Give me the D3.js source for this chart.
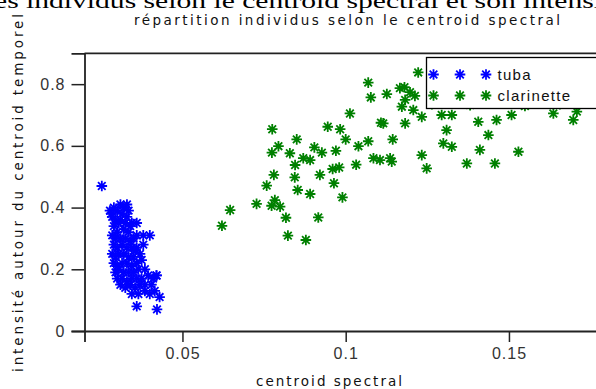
<!DOCTYPE html>
<html>
<head>
<meta charset="utf-8">
<script src="https://cdn.jsdelivr.net/npm/d3@7"></script>
<style>
  body { margin: 0; background: #fff; }
  svg { display: block; }
  text { font-family: "DejaVu Sans", "Liberation Sans", sans-serif; }
</style>
</head>
<body>
<div class="chart"></div>
<script>
var width = 596, height = 389;

// tick values
var xMajor = [0.05, 0.1, 0.15];
var xMinor = [0.02, 0.03, 0.04, 0.06, 0.07, 0.08, 0.09, 0.11, 0.12, 0.13, 0.14, 0.16, 0.17, 0.18];
var yMajor = [0, 0.2, 0.4, 0.6, 0.8];
var yMinor = [0.1, 0.3, 0.5, 0.7, 0.9];

// series: [centroid spectral, intensité]
var tuba = [
  [0.0253,0.47],
  [0.0278,0.39],[0.0285,0.37],[0.0282,0.38],[0.0290,0.40],[0.0300,0.39],[0.0310,0.41],[0.0320,0.40],[0.0315,0.38],[0.0295,0.36],
  [0.0305,0.35],[0.0290,0.34],[0.0330,0.37],[0.0340,0.34],[0.0345,0.35],[0.0335,0.32],[0.0320,0.33],[0.0300,0.32],[0.0285,0.31],[0.0295,0.30],
  [0.0310,0.30],[0.0325,0.30],[0.0340,0.29],[0.0360,0.31],[0.0380,0.31],[0.0290,0.28],[0.0300,0.27],[0.0315,0.28],[0.0330,0.27],[0.0345,0.27],
  [0.0355,0.26],[0.0370,0.25],[0.0285,0.25],[0.0295,0.24],[0.0305,0.25],[0.0320,0.25],[0.0335,0.24],[0.0350,0.24],[0.0290,0.22],[0.0300,0.21],
  [0.0315,0.22],[0.0330,0.22],[0.0345,0.21],[0.0360,0.22],[0.0375,0.23],[0.0295,0.19],[0.0305,0.20],[0.0320,0.19],[0.0335,0.19],[0.0350,0.19],
  [0.0365,0.20],[0.0385,0.20],[0.0300,0.17],[0.0315,0.17],[0.0330,0.16],[0.0345,0.17],[0.0360,0.17],[0.0375,0.17],[0.0395,0.18],[0.0310,0.15],
  [0.0325,0.14],[0.0340,0.15],[0.0355,0.14],[0.0370,0.15],[0.0385,0.15],[0.0405,0.15],[0.0420,0.18],[0.0415,0.13],[0.0400,0.12],[0.0385,0.13],
  [0.0345,0.12],[0.0365,0.12],[0.0430,0.11],[0.0360,0.08],[0.0422,0.07],[0.0400,0.31],[0.0380,0.28],[0.0410,0.17],[0.0330,0.41],[0.0335,0.39],
  [0.0350,0.30],[0.0310,0.36],[0.0325,0.35],[0.0360,0.27],[0.0360,0.35],[0.0421,0.18]
];

var clarinette = [
  [0.0621,0.341],[0.0646,0.392],[0.0727,0.412],[0.0758,0.471],[0.0773,0.406],[0.0783,0.424],[0.0799,0.403],[0.0817,0.367],
  [0.0823,0.309],[0.0878,0.295],[0.0775,0.654],[0.0794,0.599],[0.0774,0.578],[0.0780,0.506],[0.0829,0.576],[0.0850,0.621],
  [0.0844,0.498],[0.0845,0.538],[0.0853,0.457],[0.0870,0.560],[0.0891,0.554],[0.0891,0.444],[0.0904,0.595],[0.0916,0.368],
  [0.0921,0.506],[0.0927,0.578],[0.0945,0.662],[0.0960,0.525],[0.0964,0.479],[0.0970,0.584],[0.0980,0.530],[0.0983,0.654],
  [0.0990,0.433],[0.1000,0.621],[0.1013,0.705],[0.1032,0.539],[0.1039,0.599],[0.1069,0.805],[0.1077,0.757],[0.1069,0.615],
  [0.1085,0.560],[0.1105,0.554],[0.1108,0.675],[0.1115,0.673],[0.1126,0.768],[0.1136,0.560],[0.1141,0.549],[0.1144,0.621],
  [0.1166,0.787],[0.1182,0.749],[0.1197,0.774],[0.1212,0.762],[0.1172,0.727],[0.1182,0.673],[0.1207,0.716],[0.1222,0.838],
  [0.1233,0.694],[0.1233,0.570],[0.1248,0.527],[0.1294,0.700],[0.1325,0.700],[0.1309,0.651],[0.1299,0.608],[0.1325,0.597],
  [0.1371,0.543],[0.1406,0.678],[0.1411,0.587],[0.1437,0.635],[0.1457,0.543],[0.1462,0.684],[0.1508,0.700],[0.1529,0.581],
  [0.1636,0.705],[0.1697,0.684],[0.1708,0.711],[0.1264,0.735],[0.1381,0.732],[0.1549,0.729],[0.1656,0.735],[0.1180,0.790]
];

var x = d3.scaleLinear().domain([0.02, 0.18]).range([84.5, 606.9]);
var y = d3.scaleLinear().domain([0, 0.9]).range([331, 53.3]);

var svg = d3.select(".chart")
  .append("svg")
    .attr("width", width)
    .attr("height", height);

// heading of the page above, cut by the picture's top edge
svg.append("text")
  .attr("x", -6)
  .attr("y", 8)
  .attr("textLength", 608)
  .attr("lengthAdjust", "spacingAndGlyphs")
  .style("font-family", "'Liberation Serif', serif")
  .style("font-size", "21px")
  .style("fill", "#000")
  .text("es individus selon le centroid spectral et son intensi");

svg.append("text")
  .attr("x", 347)
  .attr("y", 25)
  .attr("text-anchor", "middle")
  .attr("textLength", 426)
  .attr("lengthAdjust", "spacing")
  .style("font-size", "13.5px")
  .style("fill", "#111")
  .text("répartition individus selon le centroid spectral");

// frame top
svg.append("line")
  .attr("x1", x(0.02)).attr("x2", width)
  .attr("y1", y(0.9)).attr("y2", y(0.9))
  .style("stroke", "#222").style("stroke-width", 1.8);

// axes
var gx = svg.append("g").attr("transform", "translate(0," + y(0) + ")");
gx.call(d3.axisBottom(x).tickValues(xMinor).tickSize(4).tickFormat(""));
gx.call(d3.axisBottom(x).tickValues(xMajor).tickSize(11).tickPadding(6).tickFormat(function(d) { return String(d); }));

var gy = svg.append("g").attr("transform", "translate(" + x(0.02) + ",0)");
gy.call(d3.axisLeft(y).tickValues(yMinor).tickSize(7).tickFormat(""));
gy.call(d3.axisLeft(y).tickValues(yMajor).tickSize(13).tickPadding(6).tickFormat(function(d) { return String(d); }));

svg.selectAll(".domain").style("stroke", "#222").style("stroke-width", 1.8);
svg.selectAll(".tick line").style("stroke", "#222").style("stroke-width", 1.5);
svg.selectAll(".tick text")
  .style("font-family", "'Liberation Sans', sans-serif")
  .style("font-size", "16px")
  .style("letter-spacing", "1px")
  .style("fill", "#333");

svg.append("text")
  .attr("x", 329)
  .attr("y", 386)
  .attr("text-anchor", "middle")
  .attr("textLength", 146)
  .attr("lengthAdjust", "spacing")
  .style("font-size", "13.5px")
  .style("fill", "#111")
  .text("centroid spectral");

svg.append("text")
  .attr("transform", "translate(23,193) rotate(-90)")
  .attr("text-anchor", "middle")
  .attr("textLength", 358)
  .attr("lengthAdjust", "spacing")
  .style("font-size", "13.5px")
  .style("fill", "#111")
  .text("intensité autour du centroid temporel");

function star(r) {
  var d = r * 0.72;
  return "M" + (-r) + ",0L" + r + ",0M0," + (-r) + "L0," + r +
         "M" + (-d) + "," + (-d) + "L" + d + "," + d +
         "M" + (-d) + "," + d + "L" + d + "," + (-d);
}

function drawSeries(data, color) {
  svg.append("g").selectAll("path")
    .data(data)
    .enter().append("path")
      .attr("transform", function(d) { return "translate(" + x(d[0]) + "," + y(d[1]) + ")"; })
      .attr("d", star(5.3))
      .style("fill", "none")
      .style("stroke", color)
      .style("stroke-width", 1.8);
}

drawSeries(tuba, "#0000ff");
drawSeries(clarinette, "#008000");

// legend
var legend = [
  {name: "tuba", color: "#0000ff"},
  {name: "clarinette", color: "#008000"}
];

svg.append("rect")
  .attr("x", 426.5).attr("y", 57.5)
  .attr("width", 200).attr("height", 51)
  .style("fill", "#fff")
  .style("stroke", "#000")
  .style("stroke-width", 1.3);

var lg = svg.append("g").selectAll("g")
  .data(legend)
  .enter().append("g")
    .attr("transform", function(d, i) { return "translate(0," + (74.5 + i * 21) + ")"; });

lg.selectAll("path")
  .data(function(d) { return [433.5, 460, 486].map(function(px) { return {px: px, color: d.color}; }); })
  .enter().append("path")
    .attr("transform", function(d) { return "translate(" + d.px + ",0)"; })
    .attr("d", star(5.3))
    .style("fill", "none")
    .style("stroke", function(d) { return d.color; })
    .style("stroke-width", 1.8);

lg.append("text")
  .attr("x", 497.5)
  .attr("y", 5.5)
  .style("font-family", "'Liberation Sans', sans-serif")
  .style("font-size", "15px")
  .style("letter-spacing", "1.3px")
  .style("fill", "#111")
  .text(function(d) { return d.name; });
</script>
</body>
</html>
